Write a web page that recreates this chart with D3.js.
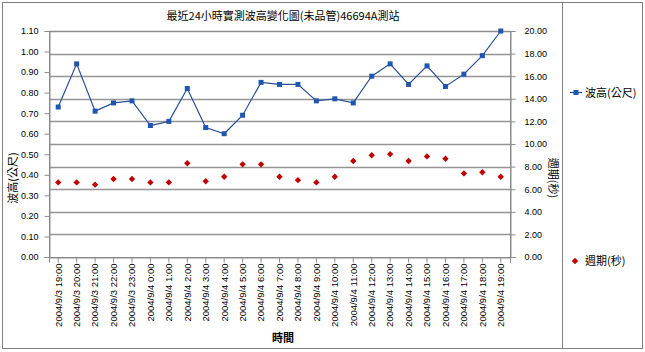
<!DOCTYPE html>
<html>
<head>
<meta charset="utf-8">
<script src="https://cdn.jsdelivr.net/npm/d3@7"></script>
<style>
  body { margin: 0; background: #fff; }
  text { font-family: "Liberation Sans", Arial, "Noto Sans CJK TC", sans-serif; fill: #000; }
</style>
</head>
<body>
<svg id="chart" width="645" height="352"></svg>
<script>
const hours = ['2004/9/3 19:00', '2004/9/3 20:00', '2004/9/3 21:00', '2004/9/3 22:00', '2004/9/3 23:00',
  '2004/9/4 0:00', '2004/9/4 1:00', '2004/9/4 2:00', '2004/9/4 3:00', '2004/9/4 4:00',
  '2004/9/4 5:00', '2004/9/4 6:00', '2004/9/4 7:00', '2004/9/4 8:00', '2004/9/4 9:00',
  '2004/9/4 10:00', '2004/9/4 11:00', '2004/9/4 12:00', '2004/9/4 13:00', '2004/9/4 14:00',
  '2004/9/4 15:00', '2004/9/4 16:00', '2004/9/4 17:00', '2004/9/4 18:00', '2004/9/4 19:00'];
const waveHeight = [0.73, 0.94, 0.71, 0.75, 0.76, 0.64, 0.66, 0.82, 0.63, 0.60, 0.69, 0.85, 0.84,
  0.84, 0.76, 0.77, 0.75, 0.88, 0.94, 0.84, 0.93, 0.83, 0.89, 0.98, 1.10];
const period = [6.6, 6.6, 6.4, 6.9, 6.9, 6.6, 6.6, 8.3, 6.7, 7.1, 8.2, 8.2, 7.1,
  6.8, 6.6, 7.1, 8.5, 9.0, 9.1, 8.5, 8.9, 8.7, 7.4, 7.5, 7.1];
const leftTicks = d3.range(0, 1.101, 0.1);
const rightTicks = d3.range(0, 20.01, 2);

const svg = d3.select('#chart');
const area = { left: 49, right: 510, top: 31, bottom: 257 };
const cjk = '"Noto Sans CJK TC", "Liberation Sans", sans-serif';

// outer frame + legend divider
svg.append('rect').attr('x', 2.5).attr('y', 2.5).attr('width', 640).attr('height', 346)
  .attr('fill', '#fff').attr('stroke', '#808080').attr('stroke-width', 1);
svg.append('line').attr('x1', 562.5).attr('x2', 562.5).attr('y1', 2.5).attr('y2', 348.5)
  .attr('stroke', '#808080');

const x = d3.scaleBand().domain(hours).range([area.left, area.right]);
const yL = d3.scaleLinear().domain([0, 1.1]).range([area.bottom, area.top]);
const yR = d3.scaleLinear().domain([0, 20]).range([area.bottom, area.top]);

// gridlines (from the secondary axis)
svg.append('g').selectAll('line').data(rightTicks.slice(1)).enter().append('line')
  .attr('x1', area.left).attr('x2', area.right)
  .attr('y1', d => Math.round(yR(d)) + 0.5).attr('y2', d => Math.round(yR(d)) + 0.5)
  .attr('stroke', '#959595').attr('stroke-width', 1.7);

// plot border
svg.append('rect').attr('x', area.left + 0.5).attr('y', area.top + 0.5)
  .attr('width', area.right - area.left).attr('height', area.bottom - area.top)
  .attr('fill', 'none').attr('stroke', '#8c8c8c');

// left axis
const gL = svg.append('g').attr('transform', `translate(${area.left + 0.5},0)`)
  .call(d3.axisLeft(yL).tickValues(leftTicks).tickFormat(d3.format('.2f')).tickSize(5).tickPadding(6));
// right axis
const gR = svg.append('g').attr('transform', `translate(${area.right + 0.5},0)`)
  .call(d3.axisRight(yR).tickValues(rightTicks).tickFormat(d3.format('.2f')).tickSize(5).tickPadding(9));
// bottom axis
const gB = svg.append('g').attr('transform', `translate(0,${area.bottom + 0.5})`)
  .call(d3.axisBottom(x).tickSize(5).tickPadding(3));

[gL, gR, gB].forEach(g => {
  g.select('.domain').attr('stroke', '#8c8c8c');
  g.selectAll('.tick line').attr('stroke', '#8c8c8c');
  g.selectAll('text').style('font-family', '"Liberation Sans", Arial, sans-serif').style('font-size', '9px').attr('fill', '#222');
});
gB.selectAll('text')
  .style('font-size', '9.5px')
  .attr('text-anchor', 'end')
  .attr('transform', 'rotate(-90)')
  .attr('x', -6).attr('y', 0).attr('dy', '0.35em');

// wave height line
svg.append('path').datum(waveHeight)
  .attr('fill', 'none').attr('stroke', '#2d4f96').attr('stroke-width', 1.2)
  .attr('d', d3.line().x((d, i) => x(hours[i]) + x.bandwidth() / 2).y(d => yL(d)));
svg.append('g').selectAll('rect').data(waveHeight).enter().append('rect')
  .attr('x', (d, i) => x(hours[i]) + x.bandwidth() / 2 - 2.5)
  .attr('y', d => yL(d) - 2.5)
  .attr('width', 5).attr('height', 5)
  .attr('fill', '#1f56b0');

// period diamonds
const diamond = d3.symbol().type(d3.symbolDiamond2).size(26);
svg.append('g').selectAll('path').data(period).enter().append('path')
  .attr('d', diamond)
  .attr('transform', (d, i) => `translate(${x(hours[i]) + x.bandwidth() / 2},${yR(d)})`)
  .attr('fill', '#c00000');

// title and axis titles
svg.append('text').attr('x', 283).attr('y', 20).attr('text-anchor', 'middle')
  .style('font-family', cjk).style('font-size', '11px').text('最近24小時實測波高變化圖(未品管)46694A測站');
svg.append('text').attr('transform', 'translate(17,178) rotate(-90)').attr('text-anchor', 'middle')
  .style('font-family', cjk).style('font-size', '11px').text('波高(公尺)');
svg.append('text').attr('transform', 'translate(549,178) rotate(90)').attr('text-anchor', 'middle')
  .style('font-family', cjk).style('font-size', '11px').text('週期(秒)');
svg.append('text').attr('x', 283).attr('y', 342).attr('text-anchor', 'middle')
  .style('font-family', cjk).style('font-size', '11px').style('font-weight', 'bold').text('時間');

// legend
const legend = svg.append('g');
legend.append('line').attr('x1', 570).attr('x2', 582).attr('y1', 92.5).attr('y2', 92.5)
  .attr('stroke', '#2d4f96').attr('stroke-width', 1.2);
legend.append('rect').attr('x', 573.5).attr('y', 90).attr('width', 5).attr('height', 5).attr('fill', '#1f56b0');
legend.append('text').attr('x', 585).attr('y', 96.5)
  .style('font-family', cjk).style('font-size', '11px').text('波高(公尺)');
legend.append('path').attr('d', diamond).attr('transform', 'translate(575,261)').attr('fill', '#c00000');
legend.append('text').attr('x', 585).attr('y', 265)
  .style('font-family', cjk).style('font-size', '11px').text('週期(秒)');
</script>
</body>
</html>
